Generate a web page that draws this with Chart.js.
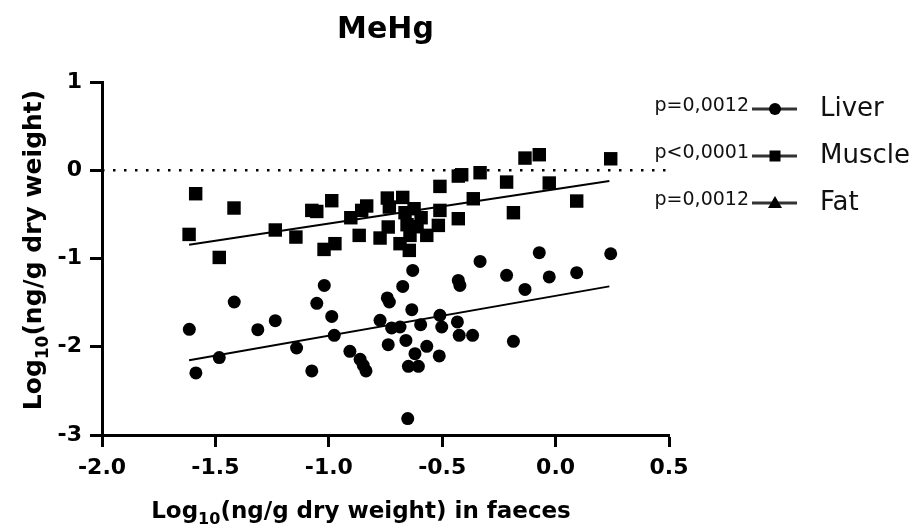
<!DOCTYPE html>
<html lang="en">
<head>
<meta charset="UTF-8">
<title>MeHg</title>
<script src="https://cdn.jsdelivr.net/npm/chart.js"></script>
<style>
  body { margin: 0; background: #fff; }
  #wrap { position: relative; width: 918px; height: 529px; }
</style>
</head>
<body>
<div id="wrap"><canvas id="chart"></canvas></div>
<script>
// values
const liverX = [-1.615, -1.586, -1.483, -1.417, -1.313, -1.236, -1.142, -1.075, -1.053, -1.020,
                -0.987, -0.976, -0.907, -0.862, -0.848, -0.836, -0.774, -0.742, -0.733, -0.674,
                -0.630, -0.634, -0.723, -0.686, -0.738, -0.660, -0.620, -0.649, -0.605, -0.595,
                -0.568, -0.510, -0.502, -0.513, -0.433, -0.425, -0.366, -0.429, -0.422, -0.333,
                -0.652, -0.216, -0.072, -0.135, -0.028, 0.093, 0.243, -0.186];
const liverY = [-1.803, -2.297, -2.123, -1.493, -1.806, -1.704, -2.014, -2.274, -1.508, -1.305,
                -1.656, -1.871, -2.052, -2.143, -2.211, -2.274, -1.701, -1.447, -1.493, -1.316,
                -1.135, -1.580, -1.787, -1.776, -1.976, -1.928, -2.078, -2.222, -2.222, -1.750,
                -1.995, -1.644, -1.776, -2.104, -1.719, -1.871, -1.871, -1.248, -1.305, -1.033,
                -2.814, -1.191, -0.934, -1.350, -1.209, -1.161, -0.946, -1.939];

const muscleX = [-1.587, -1.418, -1.616, -1.483, -1.236, -1.145, -1.075, -1.053, -0.987, -1.021,
                 -0.973, -0.903, -0.855, -0.833, -0.866, -0.774, -0.742, -0.674, -0.733, -0.738,
                 -0.686, -0.645, -0.664, -0.624, -0.593, -0.655, -0.611, -0.642, -0.568, -0.517,
                 -0.510, -0.429, -0.510, -0.429, -0.414, -0.333, -0.363, -0.216, -0.135, -0.072,
                 -0.186, -0.028, 0.093, 0.243];
const muscleY = [-0.266, -0.428, -0.727, -0.988, -0.677, -0.757, -0.455, -0.467, -0.345, -0.897,
                 -0.832, -0.538, -0.455, -0.405, -0.738, -0.768, -0.315, -0.308, -0.417, -0.643,
                 -0.832, -0.908, -0.481, -0.436, -0.538, -0.617, -0.640, -0.738, -0.738, -0.625,
                 -0.455, -0.549, -0.183, -0.066, -0.051, -0.028, -0.323, -0.134, 0.138, 0.176,
                 -0.481, -0.145, -0.349, 0.130];

const fatX = [];
const fatY = [];

// fitted lines, start and end
const liverFitX = [-1.616, 0.237];
const liverFitY = [-2.154, -1.316];
const muscleFitX = [-1.616, 0.237];
const muscleFitY = [-0.844, -0.122];

// dotted reference line at zero
const zeroLineX = [-2.0, 0.5];
const zeroLineY = [0, 0];

const xTicks = [-2.0, -1.5, -1.0, -0.5, 0.0, 0.5];
const yTicks = [-3, -2, -1, 0, 1];

const chartTitle = 'MeHg';
// axis titles: text, subscript, text
const xTitleParts = ['Log', '10', '(ng/g dry weight) in faeces'];
const yTitleParts = ['Log', '10', '(ng/g dry weight)'];
const seriesNames = ['Liver', 'Muscle', 'Fat'];
const pValues = ['p=0,0012', 'p<0,0001', 'p=0,0012'];
const seriesMarkers = ['circle', 'rect', 'triangle'];

const pts = (xs, ys) => xs.map((x, i) => ({ x: x, y: ys[i] }));
const FONT = '"DejaVu Sans"';

Chart.defaults.font.family = FONT + ', sans-serif';
Chart.defaults.color = '#000';

function drawMarker(ctx, style, x, y) {
  ctx.beginPath();
  if (style === 'circle') {
    ctx.arc(x, y, 6, 0, Math.PI * 2);
  } else if (style === 'rect') {
    ctx.rect(x - 5.5, y - 5.5, 11, 11);
  } else {
    ctx.moveTo(x, y - 7);
    ctx.lineTo(x + 7, y + 5);
    ctx.lineTo(x - 7, y + 5);
    ctx.closePath();
  }
  ctx.fill();
}

// text with a subscript in the middle, centred on cx, baseline at by
function drawSubTitle(ctx, parts, cx, by, size) {
  const big = 'bold ' + size + 'px ' + FONT;
  const small = 'bold ' + Math.round(size * 0.68) + 'px ' + FONT;
  ctx.font = big;
  const w0 = ctx.measureText(parts[0]).width;
  const w2 = ctx.measureText(parts[2]).width;
  ctx.font = small;
  const w1 = ctx.measureText(parts[1]).width;
  let x = cx - (w0 + w1 + w2) / 2;
  ctx.textAlign = 'left';
  ctx.textBaseline = 'alphabetic';
  ctx.font = big;
  ctx.fillText(parts[0], x, by);
  x += w0;
  ctx.font = small;
  ctx.fillText(parts[1], x, by + size * 0.28);
  x += w1;
  ctx.font = big;
  ctx.fillText(parts[2], x, by);
}

// title, axis titles and the legend with p-values
const annotate = {
  id: 'annotate',
  afterDraw(chart) {
    const { ctx, chartArea } = chart;
    ctx.save();
    ctx.fillStyle = '#000';
    ctx.textBaseline = 'middle';
    ctx.textAlign = 'center';
    ctx.font = 'bold 30px ' + FONT;
    ctx.fillText(chartTitle, (chartArea.left + chartArea.right) / 2, 30);

    drawSubTitle(ctx, xTitleParts, chartArea.left + 259, 518, 23);

    ctx.save();
    ctx.translate(41, 250);
    ctx.rotate(-Math.PI / 2);
    drawSubTitle(ctx, yTitleParts, 0, 0, 25);
    ctx.restore();

    const x0 = chartArea.right + 83;
    seriesNames.forEach((name, i) => {
      const y = 108 + i * 47;
      ctx.font = '19px ' + FONT;
      ctx.textAlign = 'right';
      ctx.textBaseline = 'middle';
      ctx.fillStyle = '#111';
      ctx.fillText(pValues[i], x0 - 3, y - 2);
      ctx.strokeStyle = '#333';
      ctx.lineWidth = 3;
      ctx.beginPath();
      ctx.moveTo(x0, y + 1);
      ctx.lineTo(x0 + 45, y + 1);
      ctx.stroke();
      ctx.fillStyle = '#000';
      drawMarker(ctx, seriesMarkers[i], x0 + 23, y + 1);
      ctx.font = '26px ' + FONT;
      ctx.textAlign = 'left';
      ctx.fillStyle = '#111';
      ctx.fillText(name, x0 + 68, y + 1);
    });
    ctx.restore();
  }
};

new Chart(document.getElementById('chart'), {
  type: 'scatter',
  data: {
    datasets: [
      { type: 'line', data: pts(zeroLineX, zeroLineY), borderColor: '#000', borderWidth: 2.5,
        borderDash: [2.5, 8.5], pointRadius: 0, fill: false },
      { type: 'line', data: pts(liverFitX, liverFitY), borderColor: '#000', borderWidth: 2,
        pointRadius: 0, fill: false },
      { type: 'line', data: pts(muscleFitX, muscleFitY), borderColor: '#000', borderWidth: 2,
        pointRadius: 0, fill: false },
      { label: seriesNames[0], data: pts(liverX, liverY), pointStyle: 'circle', pointRadius: 6.5,
        backgroundColor: '#000', borderWidth: 0 },
      { label: seriesNames[1], data: pts(muscleX, muscleY), pointStyle: 'rect', pointRadius: 9.5,
        backgroundColor: '#000', borderWidth: 0 },
      { label: seriesNames[2], data: pts(fatX, fatY), pointStyle: 'triangle', pointRadius: 7,
        backgroundColor: '#000', borderWidth: 0 }
    ]
  },
  options: {
    responsive: true,
    maintainAspectRatio: false,
    animation: false,
    events: [],
    layout: { padding: { top: 82, right: 249, left: 0, bottom: 0 } },
    plugins: {
      legend: { display: false },
      title: { display: false },
      tooltip: { enabled: false }
    },
    scales: {
      x: {
        type: 'linear',
        min: xTicks[0],
        max: xTicks[xTicks.length - 1],
        afterBuildTicks: (s) => { s.ticks = xTicks.map(v => ({ value: v })); },
        afterFit: (s) => { s.height = 94; },
        grid: { drawOnChartArea: false, drawTicks: true, tickLength: 12, tickWidth: 3, tickColor: '#000' },
        border: { display: true, width: 3, color: '#000' },
        ticks: { padding: 8, font: { size: 22, weight: 'bold' }, color: '#000',
                 callback: (v) => Number(v).toFixed(1) },
        title: { display: false }
      },
      y: {
        type: 'linear',
        min: yTicks[0],
        max: yTicks[yTicks.length - 1],
        afterBuildTicks: (s) => { s.ticks = yTicks.map(v => ({ value: v })); },
        afterFit: (s) => { s.width = 102; },
        grid: { drawOnChartArea: false, drawTicks: true, tickLength: 12, tickWidth: 3, tickColor: '#000' },
        border: { display: true, width: 3, color: '#000' },
        ticks: { padding: 8, font: { size: 22, weight: 'bold' }, color: '#000',
                 callback: (v) => String(v) },
        title: { display: false }
      }
    }
  },
  plugins: [annotate]
});
</script>
</body>
</html>
